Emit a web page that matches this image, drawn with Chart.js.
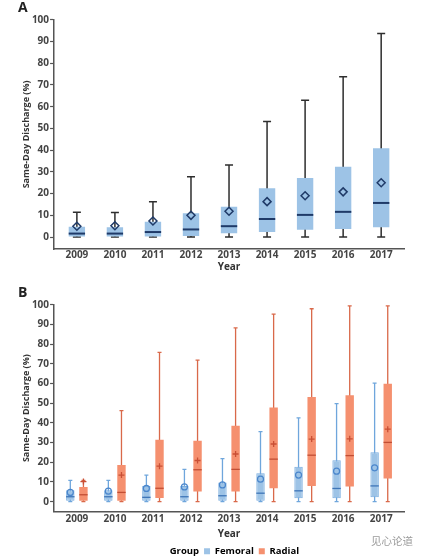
<!DOCTYPE html>
<html><head><meta charset="utf-8">
<script src="https://cdn.jsdelivr.net/npm/chart.js@4"></script>
<style>
html,body{margin:0;padding:0;background:#fff;width:428px;height:559px;overflow:hidden}
#wrap{position:relative;width:428px;height:559px;overflow:hidden}
canvas{position:absolute;left:0}
#cA{top:0}
#cB{top:285px}
#wm{position:absolute;left:371px;top:533px;font:10.5px "Noto Sans CJK SC",sans-serif;color:#9a9a9a}
</style></head><body>
<div id="wrap">
<canvas id="cA" width="428" height="285"></canvas>
<canvas id="cB" width="428" height="282"></canvas>
<div id="wm">见心论道</div>
</div>
<script>
// ---- data ----
const years = ['2009','2010','2011','2012','2013','2014','2015','2016','2017'];
const yTicks = [0,10,20,30,40,50,60,70,80,90,100];

// Panel A: all patients
const allMin    = [0, 0, 0, 0, 0, 0, 0, 0, 0];
const allQ1     = [0, 0, 0, 0.5, 1.7, 2.3, 3.4, 3.7, 4.5];
const allMedian = [1.6, 1.6, 2.3, 3.5, 5.0, 8.3, 10.2, 11.6, 15.7];
const allQ3     = [4.7, 4.5, 7.0, 11.0, 13.9, 22.5, 27.2, 32.4, 40.9];
const allMax    = [11.4, 11.3, 16.3, 27.8, 33.2, 53.2, 63.0, 73.8, 93.7];
const allMean   = [5.0, 5.2, 7.4, 10.0, 11.9, 16.3, 19.0, 20.8, 25.0];

// Panel B: femoral
const femMin    = [0, 0, 0, 0, 0, 0, 0, 0, 0];
const femQ1     = [0.5, 0.5, 0.5, 0.5, 0.5, 0.5, 1.7, 1.7, 2.2];
const femMedian = [2.5, 2.5, 2.2, 2.5, 3.0, 4.3, 5.5, 6.7, 8.0];
const femQ3     = [5.8, 5.8, 8.0, 8.0, 9.7, 14.4, 17.7, 21.0, 25.1];
const femMax    = [10.8, 10.8, 13.5, 16.4, 21.9, 35.6, 42.6, 49.8, 60.2];
const femMean   = [4.7, 5.3, 6.7, 7.5, 8.5, 11.4, 13.5, 15.5, 17.2];

// Panel B: radial
const radMin    = [0, 0, 0, 0, 0, 0, 0, 0, 0];
const radQ1     = [0.5, 0.5, 1.8, 5.2, 5.2, 6.8, 8.0, 7.7, 11.7];
const radMedian = [3.5, 4.7, 6.8, 16.2, 16.4, 21.6, 23.6, 23.4, 30.1];
const radQ3     = [7.5, 18.6, 31.4, 30.9, 38.6, 47.8, 53.2, 54.0, 59.9];
const radMax    = [10.8, 46.2, 75.8, 71.9, 88.3, 95.3, 98.0, 99.5, 99.5];
const radMean   = [10.2, 13.5, 18.0, 20.9, 24.2, 29.3, 31.8, 31.9, 36.8];

// ---- styling ----
const FONT = '"Open Sans", "DejaVu Sans", sans-serif';
Chart.defaults.font.family = FONT;
Chart.defaults.color = '#444';

const boxExtras = {
  id: 'boxExtras',
  beforeDatasetsDraw(chart) {
    const ctx = chart.ctx, ys = chart.scales.y;
    chart.data.datasets.forEach((ds, di) => {
      const st = ds.stats; if (!st) return;
      const meta = chart.getDatasetMeta(di);
      ctx.save();
      ctx.strokeStyle = st.whiskerColor; ctx.lineWidth = st.whiskerWidth;
      meta.data.forEach((bar, i) => {
        const x = bar.x, lo = ys.getPixelForValue(st.min[i]), hi = ys.getPixelForValue(st.max[i]);
        const c = st.cap / 2;
        ctx.beginPath();
        ctx.moveTo(x, lo); ctx.lineTo(x, hi);
        ctx.moveTo(x - c, hi); ctx.lineTo(x + c, hi);
        ctx.moveTo(x - c, lo); ctx.lineTo(x + c, lo);
        ctx.stroke();
      });
      ctx.restore();
    });
  },
  afterDatasetsDraw(chart) {
    const ctx = chart.ctx, ys = chart.scales.y;
    chart.data.datasets.forEach((ds, di) => {
      const st = ds.stats; if (!st) return;
      const meta = chart.getDatasetMeta(di);
      ctx.save();
      meta.data.forEach((bar, i) => {
        const x = bar.x, w = bar.width / 2;
        const ym = ys.getPixelForValue(st.median[i]);
        ctx.strokeStyle = st.medianColor; ctx.lineWidth = st.medianWidth;
        ctx.beginPath(); ctx.moveTo(x - w, ym); ctx.lineTo(x + w, ym); ctx.stroke();
        const yv = ys.getPixelForValue(st.mean[i]);
        const r = st.meanSize;
        ctx.strokeStyle = st.meanColor; ctx.lineWidth = st.meanWidth;
        ctx.beginPath();
        if (st.meanStyle === 'diamond') {
          ctx.moveTo(x, yv - r); ctx.lineTo(x + r, yv); ctx.lineTo(x, yv + r); ctx.lineTo(x - r, yv); ctx.closePath();
        } else if (st.meanStyle === 'circle') {
          ctx.arc(x, yv, r, 0, Math.PI * 2);
        } else {
          ctx.moveTo(x - r, yv); ctx.lineTo(x + r, yv);
          ctx.moveTo(x, yv - r); ctx.lineTo(x, yv + r);
        }
        ctx.stroke();
      });
      ctx.restore();
    });
  }
};

function floating(q1, q3) { return q1.map((v, i) => ({x: i, y: [v, q3[i]]})); }

function scales(yMin, xPad, yearPad) {
  return {
    x: {
      type: 'linear', min: -0.6, max: 8.6, offset: false,
      afterBuildTicks: (s) => { s.ticks = years.map((_, i) => ({value: i})); },
      grid: {display: false, drawTicks: false, offset: false},
      border: {display: true, color: '#555', width: 1.5},
      ticks: {callback: (v) => years[v], font: {size: 10, weight: 'bold'}, color: '#444', padding: xPad, maxRotation: 0, autoSkip: false},
      title: {display: true, text: 'Year', font: {size: 10, weight: 'bold'}, color: '#333', padding: {top: yearPad, bottom: yearPad}}
    },
    y: {
      min: yMin, max: 100,
      afterBuildTicks: (s) => { s.ticks = yTicks.map(v => ({value: v})); },
      grid: {drawOnChartArea: false, drawTicks: true, tickLength: 4, color: '#555', tickWidth: 1.2},
      border: {display: true, color: '#555', width: 1.5},
      ticks: {font: {size: 10, weight: 'bold'}, color: '#444', padding: 1},
      title: {display: true, text: 'Same-Day Discharge (%)', font: {size: 9, weight: 'bold', lineHeight: 1.1}, color: '#333', padding: {top: 3, bottom: 0}}
    }
  };
}

function titleOpt(t, top) {
  return {display: true, text: t, align: 'start', font: {size: 14, weight: 'bold'}, color: '#222', padding: {top: top, bottom: 3}};
}

new Chart(document.getElementById('cA'), {
  type: 'bar',
  data: {
    datasets: [{
      label: 'All',
      data: floating(allQ1, allQ3),
      backgroundColor: '#9dc3e6', borderWidth: 0,
      categoryPercentage: 1, barPercentage: 0.43,
      stats: {min: allMin, max: allMax, median: allMedian, mean: allMean,
        whiskerColor: '#2e2e2e', whiskerWidth: 1.5, cap: 8,
        medianColor: '#1f3a68', medianWidth: 2,
        meanStyle: 'diamond', meanSize: 4, meanColor: '#1f3a68', meanWidth: 1.5}
    }]
  },
  options: {
    responsive: false, animation: false, devicePixelRatio: 1,
    layout: {padding: {left: 18, right: 24, top: 0, bottom: 12}},
    plugins: {legend: {display: false}, tooltip: {enabled: false}, title: titleOpt('A', 0)},
    scales: scales(-5.5, 0, 0)
  },
  plugins: [boxExtras]
});

new Chart(document.getElementById('cB'), {
  type: 'bar',
  data: {
    datasets: [{
      label: 'Femoral',
      data: floating(femQ1, femQ3),
      backgroundColor: '#9dc3e6', borderColor: '#79addf', borderWidth: 1, borderSkipped: false,
      categoryPercentage: 0.69, barPercentage: 0.64,
      stats: {min: femMin, max: femMax, median: femMedian, mean: femMean,
        whiskerColor: '#6fa6dc', whiskerWidth: 1.3, cap: 4,
        medianColor: '#3f76b8', medianWidth: 1.3,
        meanStyle: 'circle', meanSize: 3, meanColor: '#4a86cc', meanWidth: 1.2}
    }, {
      label: 'Radial',
      data: floating(radQ1, radQ3),
      backgroundColor: '#f5906f', borderWidth: 0,
      categoryPercentage: 0.69, barPercentage: 0.64,
      stats: {min: radMin, max: radMax, median: radMedian, mean: radMean,
        whiskerColor: '#d9694a', whiskerWidth: 1.3, cap: 4,
        medianColor: '#c24e34', medianWidth: 1.3,
        meanStyle: 'plus', meanSize: 3, meanColor: '#c94f35', meanWidth: 1.3}
    }]
  },
  options: {
    responsive: false, animation: false, devicePixelRatio: 1,
    layout: {padding: {left: 18, right: 24, top: 0, bottom: 1}},
    plugins: {
      tooltip: {enabled: false},
      title: titleOpt('B', 0),
      legend: {
        display: true, position: 'bottom', fullSize: false,
        labels: {
          boxWidth: 6, boxHeight: 6, padding: 5, color: '#444',
          font: {size: 9.5, weight: 'bold'},
          generateLabels: (chart) => [
            {text: 'Group', fillStyle: 'rgba(0,0,0,0)', strokeStyle: 'rgba(0,0,0,0)', lineWidth: 0, hidden: false, datasetIndex: -1},
            ...chart.data.datasets.map((d, i) => ({text: d.label, fillStyle: d.backgroundColor, strokeStyle: d.backgroundColor, lineWidth: 0, hidden: false, datasetIndex: i}))
          ]
        }
      }
    },
    scales: scales(-5, 2, 1)
  },
  plugins: [boxExtras]
});
</script>
</body></html>
